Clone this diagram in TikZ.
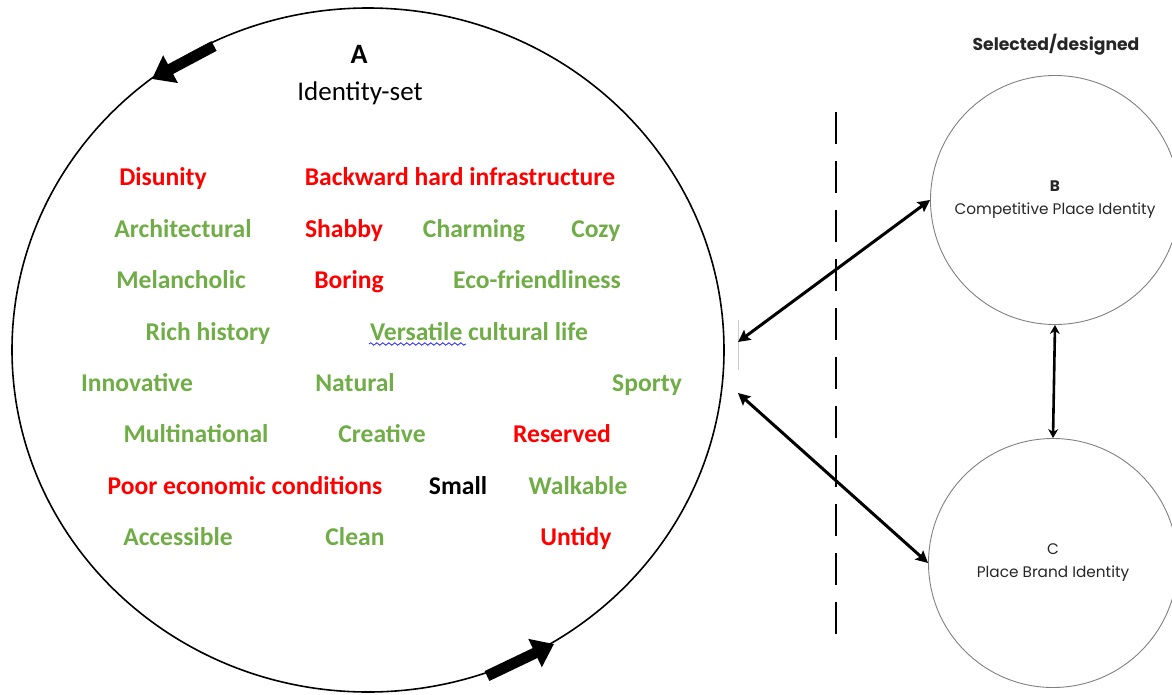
\documentclass[tikz,border=0pt]{standalone}
\usepackage{fontspec}
\setmainfont{Carlito}
\newfontfamily\geofont{Poppins}
\usetikzlibrary{arrows.meta, positioning, calc, shapes.geometric, decorations.pathmorphing}
\definecolor{posgreen}{HTML}{70AD47}
\definecolor{negred}{HTML}{FF0000}
\tikzstyle{trait} = [anchor=base, inner sep=0pt, font=\fontsize{25.6}{30}\selectfont\bfseries]
\tikzstyle{goodtrait} = [trait, text=posgreen]
\tikzstyle{badtrait} = [trait, text=negred]
\tikzstyle{plaintrait} = [trait, text=black]
\tikzstyle{setname} = [anchor=base, inner sep=0pt, font=\fontsize{27}{30}\selectfont]
\tikzstyle{place} = [circle, draw=black!50, line width=0.9pt, minimum size=249pt, inner sep=0pt, align=center, text=black!85, font=\geofont\fontsize{15.3}{23}\selectfont]
\tikzstyle{spin} = [line width=11pt, -{Triangle[length=21pt, width=30pt]}]
\tikzstyle{link} = [line width=3pt, {Stealth[length=12pt, width=12pt, inset=2pt]}-{Stealth[length=12pt, width=12pt, inset=2pt]}]

\begin{document}
\begin{tikzpicture}[x=1pt, y=-1pt]
        \useasboundingbox (0,0) rectangle (1172,694);

        % Identity set
        \node[ellipse, draw, line width=1.6pt, minimum width=712, minimum height=684] (idset) at (368,350) {};
        \node[setname, font=\fontsize{28}{30}\selectfont\bfseries] (Aname) at (359,63) {A};
        \node[setname] (Alabel) at (360,100) {Identity-set};
        \draw[spin] (214,46) -- (152,79);
        \draw[spin] (487,676) -- (554,644);

        % Traits
        \node[badtrait] (disunity) at (163,185.5) {Disunity};
        \node[badtrait] (backward) at (460,185.5) {Backward hard infrastructure};
        \node[goodtrait] (architectural) at (183,237) {Architectural};
        \node[badtrait] (shabby) at (344,237) {Shabby};
        \node[goodtrait] (charming) at (474,237) {Charming};
        \node[goodtrait] (cozy) at (596,237) {Cozy};
        \node[goodtrait] (melancholic) at (181,288.5) {Melancholic};
        \node[badtrait] (boring) at (349,288.5) {Boring};
        \node[goodtrait] (eco) at (537,288.5) {Eco-friendliness};
        \node[goodtrait] (history) at (208,340) {Rich history};
        \node[goodtrait] (versatile) at (479,340) {Versatile cultural life};
        \draw[blue!80, line width=0.9pt, decorate, decoration={snake, amplitude=1.2pt, segment length=6pt}] ($(versatile.base west)+(-1,4)$) -- ++(97,0);
        \node[goodtrait] (innovative) at (137,391) {Innovative};
        \node[goodtrait] (natural) at (355,391) {Natural};
        \node[goodtrait] (sporty) at (647,391) {Sporty};
        \node[goodtrait] (multinational) at (196,442.5) {Multinational};
        \node[goodtrait] (creative) at (382,442.5) {Creative};
        \node[badtrait] (reserved) at (562,442.5) {Reserved};
        \node[badtrait] (poor) at (245,494) {Poor economic conditions};
        \node[plaintrait] (small) at (458,494) {Small};
        \node[goodtrait] (walkable) at (578,494) {Walkable};
        \node[goodtrait] (accessible) at (178,545.5) {Accessible};
        \node[goodtrait] (clean) at (355,545.5) {Clean};
        \node[badtrait] (untidy) at (576,545.5) {Untidy};

        % Selected / designed side
        \node[text=black!85, font=\geofont\fontsize{17.2}{20}\selectfont\bfseries] (selected) at (1056,45) {Selected/designed};
        \node[place] (compB) at (1055,200) {{\bfseries B}\\Competitive Place Identity};
        \node[place] (brandC) at (1053,563) {C\\Place Brand Identity};

        % Divider
        \coordinate (dashtop) at (836,112);
        \coordinate (dashbot) at (836,634);
        \draw[line width=2.6pt, dash pattern=on 32pt off 17pt] (dashtop) -- (dashbot);

        % Connections
        \coordinate (Aupper) at (738,342);
        \coordinate (Alower) at (738,393);
        \draw[black!20, line width=0.5pt] (738,320) -- (738,370);
        \draw[link] (Aupper) -- (compB.west);
        \draw[link] (Alower) -- (brandC.west);
        \draw[link, line width=2.6pt, {Stealth[length=9pt, width=10pt]}-{Stealth[length=9pt, width=10pt]}] (compB.south) -- (brandC.north);
    \end{tikzpicture}
\end{document}
